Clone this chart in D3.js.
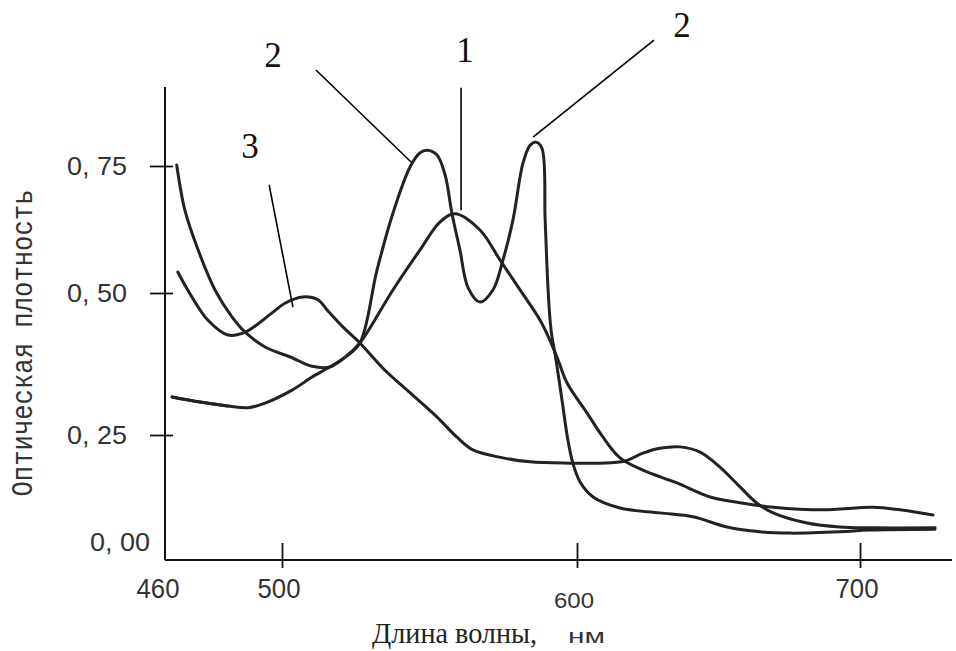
<!DOCTYPE html>
<html><head><meta charset="utf-8"><title>Оптическая плотность</title>
<style>
    body { margin: 0; background: #fff; }
    svg { display: block; }
    .curve { fill: none; stroke: #222; stroke-width: 3; stroke-linejoin: round; stroke-linecap: round; }
    .lead { stroke: #000; stroke-width: 1.6; }
    .num { font-family: "Liberation Sans", sans-serif; font-size: 25px; fill: #333; }
    .tag { font-family: "Liberation Serif", serif; font-size: 35px; fill: #111; }
</style>
</head>
<body>
<svg id="chart" width="956" height="651"></svg>
<script src="https://cdn.jsdelivr.net/npm/d3@7"></script>
<script>
    // ticks
    const xTicks = [460, 500, 600, 700];
    const yTicks = [0, 0.25, 0.5, 0.75];
    const yTickLabels = ["0, 00", "0, 25", "0, 50", "0, 75"];

    // spectra: [wavelength nm, optical density]
    const curve1 = [
        [464, 0.752], [466.8, 0.663], [471.3, 0.585], [477.1, 0.506], [482.9, 0.458],
        [487.4, 0.431], [494.2, 0.405], [503.4, 0.386], [510.2, 0.371], [516.3, 0.370],
        [521.4, 0.387], [526.4, 0.412], [537.6, 0.506], [546.8, 0.585], [553.6, 0.640],
        [558.6, 0.656], [567.1, 0.624], [573.9, 0.565], [580.7, 0.506], [587.5, 0.452],
        [590.8, 0.417], [593.6, 0.382], [596.6, 0.342], [603.5, 0.289], [609.2, 0.245],
        [615.2, 0.198], [623.3, 0.170], [635.3, 0.141], [647.0, 0.109], [658.7, 0.095],
        [669.3, 0.086], [686.9, 0.080], [704.6, 0.086], [714.1, 0.080], [725.8, 0.068]
    ];
    const curve2 = [
        [462.4, 0.317], [472.0, 0.308], [481.5, 0.301], [488.4, 0.298], [494.2, 0.306],
        [503.4, 0.329], [510.2, 0.352], [516.3, 0.370], [521.4, 0.387], [526.4, 0.412],
        [532.2, 0.545], [537.6, 0.657], [543.4, 0.748], [546.8, 0.776], [549.2, 0.781],
        [552.5, 0.772], [555.3, 0.732], [557.6, 0.657], [560.3, 0.585], [563.1, 0.510],
        [567.1, 0.484], [571.5, 0.506], [574.9, 0.565], [578.3, 0.644], [581.7, 0.756],
        [584.1, 0.791], [586.1, 0.797], [588.1, 0.785], [589.2, 0.644], [590.2, 0.506],
        [591.2, 0.435], [592.9, 0.382], [594.9, 0.312], [596.9, 0.239], [598.6, 0.186],
        [601.1, 0.143], [605.7, 0.109], [615.2, 0.084], [629.3, 0.073], [641.0, 0.064],
        [653.0, 0.041], [664.7, 0.030], [675.3, 0.027], [692.9, 0.030], [703.5, 0.034],
        [726.5, 0.036]
    ];
    const curve3 = [
        [464.4, 0.541], [469.2, 0.493], [474.7, 0.452], [481.5, 0.426], [487.4, 0.431],
        [496.6, 0.465], [501.0, 0.482], [507.1, 0.493], [512.2, 0.488], [515.3, 0.470],
        [520.7, 0.440], [526.4, 0.412], [534.9, 0.364], [542.4, 0.329], [552.5, 0.282],
        [559.3, 0.245], [564.7, 0.216], [574.9, 0.198], [584.1, 0.189], [597.6, 0.186],
        [608.1, 0.186], [617.0, 0.191], [623.3, 0.209], [629.3, 0.220], [636.4, 0.223],
        [643.5, 0.211], [650.5, 0.177], [657.6, 0.132], [663.6, 0.095], [669.3, 0.073],
        [681.3, 0.050], [692.9, 0.041], [703.5, 0.039], [726.5, 0.039]
    ];

    // curve numbers with their leader lines: label point, line start, line end
    const tagText = ["3", "2", "1", "2"];
    const tagPos = [[489.1, 0.789], [496.9, 0.969], [562.0, 0.978], [637.1, 1.028]];
    const leadFrom = [[495.6, 0.713], [511.5, 0.939], [560.7, 0.904], [627.2, 0.998]];
    const leadTo = [[503.7, 0.475], [544.1, 0.756], [560.7, 0.663], [585.1, 0.807]];

    const plotLeft = 165, plotRight = 952, plotTop = 87, plotBottom = 560;

    const svg = d3.select("#chart");

    const x = d3.scaleLinear().domain([460, 500, 600, 700]).range([165, 282, 577, 860]);
    const y = d3.scaleLinear().domain([0, 0.25, 0.5, 0.75]).range([545, 435, 293, 166]);

    // axis lines
    svg.append("line").attr("x1", plotLeft).attr("x2", plotLeft).attr("y1", plotTop).attr("y2", plotBottom)
        .attr("stroke", "#111").attr("stroke-width", 2);
    svg.append("line").attr("x1", plotLeft).attr("x2", plotRight).attr("y1", plotBottom).attr("y2", plotBottom)
        .attr("stroke", "#111").attr("stroke-width", 2);

    // y ticks cross the axis
    const gy = svg.append("g").attr("transform", `translate(${plotLeft},0)`)
        .call(d3.axisLeft(y).tickValues(yTicks.slice(1)).tickSize(15).tickFormat(""));
    gy.select(".domain").remove();
    gy.selectAll(".tick line").attr("x2", -15).attr("x1", 8).attr("stroke", "#111").attr("stroke-width", 1.8);

    svg.selectAll(".ylab").data(yTicks).join("text")
        .attr("class", "num ylab")
        .attr("x", (d, i) => i === 0 ? 150 : 127)
        .attr("y", d => d === 0 ? y(d) - 3 : y(d))
        .attr("dy", "0.36em")
        .attr("text-anchor", "end")
        .attr("textLength", 60)
        .attr("lengthAdjust", "spacingAndGlyphs")
        .text((d, i) => yTickLabels[i]);

    // x ticks
    const gx = svg.append("g").attr("transform", `translate(0,${plotBottom})`)
        .call(d3.axisBottom(x).tickValues(xTicks.slice(1)).tickSize(8).tickFormat(""));
    gx.select(".domain").remove();
    gx.selectAll(".tick line").attr("y1", -17).attr("stroke", "#111").attr("stroke-width", 1.8);

    svg.selectAll(".xlab").data(xTicks).join("text")
        .attr("class", "xlab")
        .attr("x", d => d === 460 ? x(d) - 7 : x(d) - 3)
        .attr("y", d => d === 600 ? 600 : 588)
        .attr("dy", "0.36em")
        .attr("text-anchor", "middle")
        .attr("font-family", "Liberation Sans, sans-serif")
        .attr("font-size", d => d === 600 ? 22 : 27)
        .attr("fill", "#333")
        .attr("textLength", d => d === 600 ? 40 : 43)
        .attr("lengthAdjust", "spacingAndGlyphs")
        .text(d => d);

    // axis titles
    svg.append("text")
        .attr("transform", "translate(22,343) rotate(-90)")
        .attr("text-anchor", "middle")
        .attr("dy", "0.36em")
        .attr("font-family", "Liberation Mono, monospace")
        .attr("font-size", 29)
        .attr("fill", "#333")
        .attr("textLength", 307)
        .attr("lengthAdjust", "spacingAndGlyphs")
        .text("Оптическая плотность");

    svg.append("text")
        .attr("x", 372).attr("y", 643)
        .attr("font-family", "Liberation Serif, serif")
        .attr("font-size", 29)
        .attr("fill", "#222")
        .attr("textLength", 165)
        .attr("lengthAdjust", "spacingAndGlyphs")
        .text("Длина волны,");
    svg.append("text")
        .attr("x", 568).attr("y", 643)
        .attr("font-family", "Liberation Sans, sans-serif")
        .attr("font-size", 21)
        .attr("fill", "#333")
        .attr("textLength", 37)
        .attr("lengthAdjust", "spacingAndGlyphs")
        .text("нм");

    // curves
    const line = d3.line()
        .x(d => x(d[0]))
        .y(d => y(d[1]))
        .curve(d3.curveCatmullRom.alpha(0.5));

    svg.selectAll(".curve").data([curve1, curve2, curve3]).join("path")
        .attr("class", "curve")
        .attr("d", line);

    // heavier start of curve 2
    svg.append("path")
        .attr("class", "curve")
        .attr("stroke-width", 5)
        .attr("d", line(curve2.slice(0, 3)));

    // leader lines and numbers
    svg.selectAll(".lead").data(leadFrom).join("line")
        .attr("class", "lead")
        .attr("x1", d => x(d[0])).attr("y1", d => y(d[1]))
        .attr("x2", (d, i) => x(leadTo[i][0])).attr("y2", (d, i) => y(leadTo[i][1]));

    svg.selectAll(".tag").data(tagPos).join("text")
        .attr("class", "tag")
        .attr("x", d => x(d[0]))
        .attr("y", d => y(d[1]))
        .attr("dy", "0.35em")
        .attr("text-anchor", "middle")
        .text((d, i) => tagText[i]);
</script>
</body>
</html>
